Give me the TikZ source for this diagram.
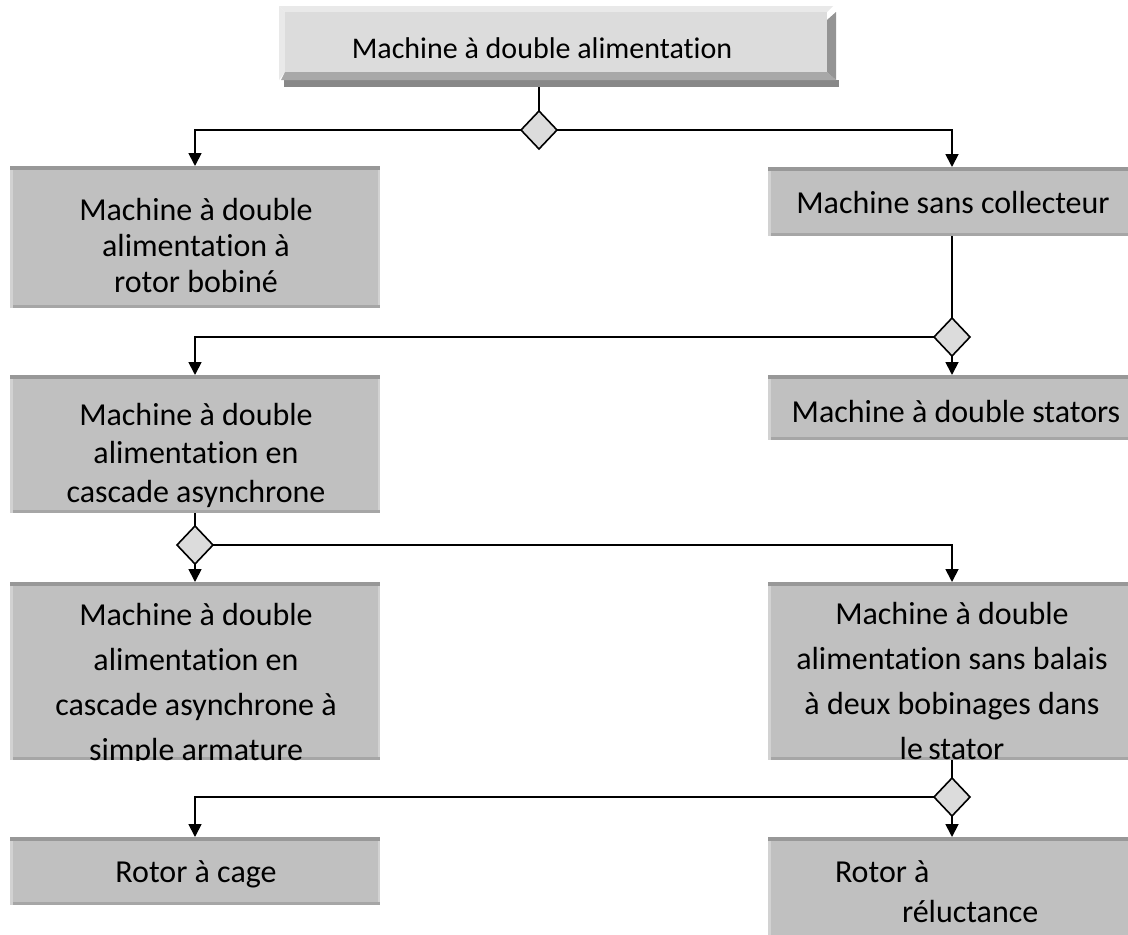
\documentclass[tikz,border=0pt]{standalone}
\usepackage{fontspec}
\setmainfont[Ligatures=NoCommon]{Carlito}
\usetikzlibrary{shapes.geometric,arrows.meta,calc}
\definecolor{boxface}{HTML}{C0C0C0}
\definecolor{bevtop}{HTML}{989898}
\definecolor{bevleft}{HTML}{D2D2D2}
\definecolor{bevbot}{HTML}{A6A6A6}
\definecolor{topface}{HTML}{DCDCDC}
\definecolor{toplight}{HTML}{E9E9E9}
\definecolor{topmid}{HTML}{A8A8A8}
\definecolor{topdark}{HTML}{888888}
\definecolor{diafill}{HTML}{DCDCDC}
\newcommand\bevelbox[1]{%
  \fill[bevtop] (#1.north west) rectangle ($(#1.north east)+(0,4)$);
  \fill[bevleft] ($(#1.north west)+(0,4)$) rectangle ($(#1.south west)+(3,0)$);
  \fill[bevbot] ($(#1.south west)+(3,-3)$) rectangle (#1.south east);
  \fill[bevleft] ($(#1.north east)+(-2,4)$) rectangle ($(#1.south east)+(0,-3)$);
}
\begin{document}
\begin{tikzpicture}[x=1pt,y=-1pt,
  gbox/.style={fill=boxface,draw=none,inner sep=0pt,outer sep=0pt},
  tbox/.style={fill=none,draw=none,inner sep=0pt,outer sep=0pt},
  dia/.style={diamond,draw=black,line width=1.6pt,fill=diafill,minimum width=36pt,minimum height=38pt,inner sep=0pt,outer sep=0pt},
  txt/.style={inner sep=0pt,outer sep=0pt,text=black,align=center,anchor=base},
  line/.style={draw=black,line width=1.8pt},
  arr/.style={line,-{Triangle[width=13pt,length=13pt]}}]
\useasboundingbox (0,0) rectangle (1128,935);
\clip (0,0) rectangle (1128,935);
\fill[white] (0,0) rectangle (1128,935);

% top box
\node[tbox,minimum width=560pt,minimum height=81pt] (top) at (559,46.5) {};
\fill[toplight] (279,6) -- (833,6) -- (827,12) -- (285,12) -- cycle;
\fill[toplight] (279,6) -- (285,12) -- (285,72) -- (279,80) -- cycle;
\fill[topface] (285,12) rectangle (827,72);
\fill[topdark] (284,80) rectangle (839,87);
\fill[topmid] (281,80) -- (285,72) -- (827,72) -- (836,80) -- cycle;
\fill[topdark!90] (827,20) -- (836,12) -- (836,80) -- (827,72) -- cycle;
\node[txt,font=\fontsize{30}{36}\selectfont] (toptext) at (542,58) {Machine à double alimentation};

% gray boxes
\node[gbox,minimum width=370pt,minimum height=142pt] (b2) at (195,237) {};
\bevelbox{b2}
\node[gbox,minimum width=368pt,minimum height=69pt] (bsc) at (952,201.5) {};
\bevelbox{bsc}
\node[gbox,minimum width=370pt,minimum height=138pt] (bcas) at (195,444) {};
\bevelbox{bcas}
\node[gbox,minimum width=368pt,minimum height=65pt] (bst) at (952,407.5) {};
\bevelbox{bst}
\node[gbox,minimum width=370pt,minimum height=178pt] (b4l) at (195,671) {};
\bevelbox{b4l}
\node[gbox,minimum width=368pt,minimum height=178pt] (b4r) at (952,671) {};
\bevelbox{b4r}
\node[gbox,minimum width=370pt,minimum height=68pt] (bcage) at (195,871) {};
\bevelbox{bcage}
\node[gbox,minimum width=368pt,minimum height=123pt] (brel) at (952,898.5) {};
\bevelbox{brel}

% texts (anchor=base is the baseline of the last line)
\node[txt,font=\fontsize{32}{36}\selectfont] (t2) at (196,292) {Machine à double\\alimentation à\\rotor bobiné};
\node[txt,font=\fontsize{32}{38}\selectfont] (tsc) at (953,213) {Machine sans collecteur};
\node[txt,font=\fontsize{32}{38.5}\selectfont] (tcas) at (196,502) {Machine à double\\alimentation en\\cascade asynchrone};
\node[txt,font=\fontsize{32}{38}\selectfont] (tst) at (956,422) {Machine à double stators};
\begin{scope}
\clip (b4l.north west) rectangle (b4l.south east);
\node[txt,font=\fontsize{32}{45}\selectfont] (t4l) at (196,760) {Machine à double\\alimentation en\\cascade asynchrone à\\simple armature};
\end{scope}
\begin{scope}
\clip (b4r.north west) rectangle (b4r.south east);
\node[txt,font=\fontsize{32}{45}\selectfont] (t4r) at (952,759) {Machine à double\\alimentation sans balais\\à deux bobinages dans\\le\,stator};
\end{scope}
\node[txt,font=\fontsize{32}{38}\selectfont] (tcage) at (196,882) {Rotor à cage};
\node[txt,align=left,anchor=base west,font=\fontsize{32}{40}\selectfont] (trel) at (835,922) {Rotor à\\\hspace*{67pt}réluctance};

% diamonds
\node[dia] (d1) at (539,130) {};
\node[dia] (d2) at (952,337) {};
\node[dia] (d3) at (195,545) {};
\node[dia] (d4) at (952,797) {};

% connectors
\draw[line] (d1 |- top.south) -- (d1.north);
\draw[arr] (d1.west) -| (b2.north);
\draw[arr] (d1.east) -| (bsc.north);
\draw[line] (bsc.south) -- (d2.north);
\draw[arr] (d2.west) -| (bcas.north);
\draw[arr] (d2.south) -- (bst.north);
\draw[line] (bcas.south) -- (d3.north);
\draw[arr] (d3.south) -- (b4l.north);
\draw[arr] (d3.east) -| (b4r.north);
\draw[line] (b4r.south) -- (d4.north);
\draw[arr] (d4.south) -- (brel.north);
\draw[arr] (d4.west) -| (bcage.north);
\end{tikzpicture}
\end{document}
